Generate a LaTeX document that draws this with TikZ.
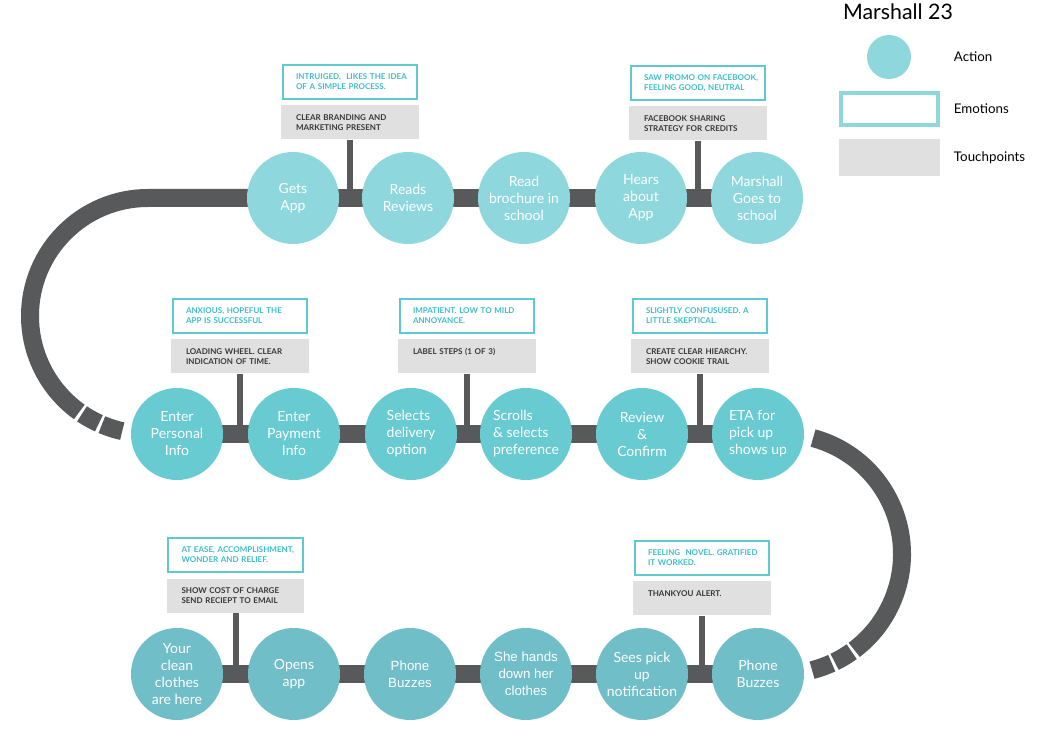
\documentclass[tikz,border=0pt]{standalone}
\usepackage{fontspec}
\setmainfont{Lato}
\newfontfamily\arialfont{Liberation Sans}
\usetikzlibrary{positioning,backgrounds}

\definecolor{trackgray}{RGB}{88,89,91}
\definecolor{tealA}{RGB}{142,216,221}
\definecolor{tealB}{RGB}{103,203,209}
\definecolor{tealC}{RGB}{112,190,199}
\definecolor{emoline}{RGB}{96,200,207}
\definecolor{emotext}{RGB}{60,190,200}
\definecolor{touchfill}{RGB}{224,224,224}
\definecolor{touchtext}{RGB}{55,55,55}

\tikzset{every picture/.style={line width=0.75pt}}
\tikzset{
  action/.style={circle, minimum size=69pt, inner sep=0pt, text=white, align=center,
    font=\fontsize{10.5}{12.75}\selectfont},
  track/.style={draw=trackgray, line width=13.5pt},
  stem/.style={draw=trackgray, line width=4.5pt},
  boxtext/.style={align=left, text width=90pt, minimum height=25.5pt,
    execute at begin node={\leftskip=4.5pt\hyphenpenalty=10000},
    font=\bfseries\fontsize{6}{7.5}\selectfont},
  emotion/.style={boxtext, draw=emoline, line width=1.5pt, fill=white, text=emotext,
    inner xsep=5.6pt},
  touch/.style={boxtext, fill=touchfill, text=touchtext, inner xsep=6.4pt},
  oneline/.style={text height=4.5pt, text depth=7.5pt},
  legendtext/.style={anchor=west, font=\fontsize{10}{12}\selectfont}
}

\begin{document}
\begin{tikzpicture}[x=0.75pt,y=0.75pt,yscale=-1,xscale=1]
\useasboundingbox (0,0) rectangle (1042,748);

%Row 1 actions
\node [action, fill=tealA] (gets) at (293,198) {Gets\\App};
\node [action, fill=tealA] (reads) at (408,198) {Reads\\Reviews};
\node [action, fill=tealA] (brochure) at (524,198) {Read\\brochure in\\school};
\node [action, fill=tealA] (hears) at (641,198) {Hears\\about\\App};
\node [action, fill=tealA] (goes) at (757,198) {Marshall\\Goes to\\school};

%Row 2 actions
\node [action, fill=tealB] (personal) at (177,434) {Enter\\Personal\\Info};
\node [action, fill=tealB] (payment) at (294,434) {Enter\\Payment\\Info};
\node [action, fill=tealB, align=left] (delivery) at (411,434) {Selects\\delivery\\option};
\node [action, fill=tealB, align=left] (scrolls) at (526,434) {Scrolls\\\&~selects\\preference};
\node [action, fill=tealB] (review) at (642,434) {Review\\\&\\Confirm};
\node [action, fill=tealB, align=left] (eta) at (758,434) {ETA for\\pick up\\shows up};

%Row 3 actions
\node [action, fill=tealC] (clothes) at (177,674) {Your\\clean\\clothes\\are here};
\node [action, fill=tealC] (opens) at (294,674) {Opens\\app};
\node [action, fill=tealC, font=\arialfont\fontsize{10}{12.75}\selectfont] (buzzA) at (410,674) {Phone\\Buzzes};
\node [action, fill=tealC, font=\arialfont\fontsize{10}{12.75}\selectfont] (hands) at (526,674) {She hands\\down her\\clothes};
\node [action, fill=tealC] (sees) at (642,674) {Sees pick\\up\\notification};
\node [action, fill=tealC] (buzzB) at (758,674) {Phone\\Buzzes};

%Emotions and touchpoints
\node [emotion] (emoA) at (350,82) {INTRUIGED,~ LIKES THE IDEA\\OF A SIMPLE PROCESS.};
\node [touch, below=3.75pt of emoA] (tpA) {CLEAR BRANDING AND\\MARKETING PRESENT};
\node [emotion] (emoB) at (698,83) {SAW PROMO ON FACEBOOK,\\FEELING GOOD, NEUTRAL};
\node [touch, below=3.75pt of emoB] (tpB) {FACEBOOK SHARING\\STRATEGY FOR CREDITS};

\node [emotion] (emoC) at (240,316) {ANXIOUS, HOPEFUL THE\\APP IS SUCCESSFUL};
\node [touch, below=3.75pt of emoC] (tpC) {LOADING WHEEL. CLEAR\\INDICATION OF TIME.};
\node [emotion] (emoD) at (467,316) {IMPATIENT. LOW TO MILD\\ANNOYANCE.};
\node [touch, oneline, below=3.75pt of emoD] (tpD) {LABEL STEPS (1 OF 3)};
\node [emotion] (emoE) at (700,316) {SLIGHTLY CONFUSUSED. A\\LITTLE SKEPTICAL.};
\node [touch, below=3.75pt of emoE] (tpE) {CREATE CLEAR HIEARCHY.\\SHOW COOKIE TRAIL};

\node [emotion] (emoF) at (235.5,555) {AT EASE, ACCOMPLISHMENT,\\WONDER AND RELIEF.};
\node [touch, below=3.75pt of emoF] (tpF) {SHOW COST OF CHARGE\\SEND RECIEPT TO EMAIL};
\node [emotion] (emoG) at (702,557.5) {FEELING~ NOVEL. GRATIFIED\\IT WORKED.};
\node [touch, oneline, below=3.75pt of emoG] (tpG) {THANKYOU ALERT.};

%Track
\coordinate (lc) at (148,316);
\coordinate (rc) at (782,554);
\begin{scope}[on background layer]
\foreach \a/\b in {gets/reads, reads/brochure, brochure/hears, hears/goes,
    personal/payment, payment/delivery, delivery/scrolls, scrolls/review, review/eta,
    clothes/opens, opens/buzzA, buzzA/hands, hands/sees, sees/buzzB}
  \draw [track] (\a.center) -- (\b.center);
\draw [track] (gets.center) -- (gets.center -| lc) arc [start angle=270, end angle=125.6, radius=118];
\end{scope}
\draw [track] ([shift={(124:118)}]lc) arc [start angle=124, end angle=114.6, radius=118];
\draw [track] ([shift={(113:118)}]lc) arc [start angle=113, end angle=102.6, radius=118];
\draw [track] ([shift={(-75:120)}]rc) arc [start angle=-75, end angle=53, radius=120];
\draw [track] ([shift={(54.5:120)}]rc) arc [start angle=54.5, end angle=64, radius=120];
\draw [track] ([shift={(65.5:120)}]rc) arc [start angle=65.5, end angle=75.5, radius=120];

%Stems
\foreach \t/\c in {tpA/gets, tpB/goes, tpC/personal, tpD/delivery, tpE/review, tpF/clothes, tpG/sees}
  \draw [stem] (\t.south) -- (\t.south |- \c.center);

%Legend
\node [font=\fontsize{16}{19}\selectfont] (title) at (898,12) {Marshall 23};
\node [circle, fill=tealA, minimum size=33pt, inner sep=0pt] (legact) at (889,57) {};
\node [draw=tealA, line width=3pt, minimum width=73pt, minimum height=24pt, inner sep=0pt] (legemo) at (889.5,109) {};
\node [fill=touchfill, minimum width=75.75pt, minimum height=27.75pt, inner sep=0pt] (legtp) at (889.5,157.5) {};
\node [legendtext] at (949,57) {Action};
\node [legendtext] at (949,109) {Emotions};
\node [legendtext] at (949,157.5) {Touchpoints};

\end{tikzpicture}
\end{document}
